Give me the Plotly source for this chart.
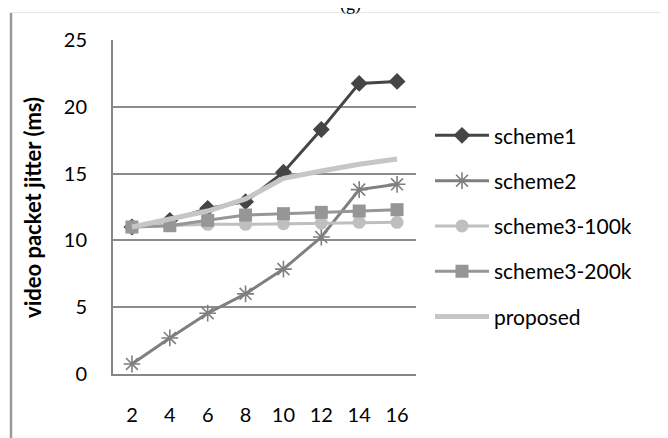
import plotly.graph_objects as go

categories = ["2", "4", "6", "8", "10", "12", "14", "16"]
scheme1 = [11.0, 11.5, 12.4, 12.9, 15.1, 18.3, 21.75, 21.9]
scheme2 = [0.75, 2.7, 4.55, 6.0, 7.85, 10.25, 13.8, 14.2]
scheme3_100k = [11.0, 11.1, 11.2, 11.2, 11.25, 11.3, 11.35, 11.35]
scheme3_200k = [11.0, 11.1, 11.5, 11.9, 12.0, 12.1, 12.2, 12.3]
proposed = [11.0, 11.6, 12.2, 13.1, 14.65, 15.2, 15.7, 16.1]
y_ticks = [0, 5, 10, 15, 20, 25]

FONT = "Lato"
OFF = 8  # page body margin

# plot area in screen pixels
SL, SR, ST, SB = 113, 416, 40, 382
W, H = 668 - OFF, 438 - OFF
L, R, T, B = SL - OFF, SR - OFF, ST - OFF, SB - OFF
PW, PH = R - L, B - T

def px_x(sx):
    return (sx - OFF - L) / PW

def px_y(sy):
    return (B - (sy - OFF)) / PH

fig = go.Figure()

series = [
    ("scheme1", scheme1, "#454545", dict(symbol="diamond", size=13, color="#454545"), 3),
    ("scheme2", scheme2, "#7f7f7f", dict(symbol="asterisk-open", size=14, color="#7f7f7f",
                                          line=dict(color="#7f7f7f", width=1.6)), 3),
    ("scheme3-100k", scheme3_100k, "#bfbfbf", dict(symbol="circle", size=13, color="#bfbfbf"), 3),
    ("scheme3-200k", scheme3_200k, "#969696", dict(symbol="square", size=13, color="#969696"), 3),
]
for i, (name, vals, col, mk, lw) in enumerate(series):
    fig.add_trace(go.Scatter(x=categories, y=vals, name=name, mode="lines+markers",
                             line=dict(color=col, width=lw), marker=mk,
                             legendgroup=f"g{i}"))
fig.add_trace(go.Scatter(x=categories, y=proposed, name="proposed", mode="lines",
                         line=dict(color="#c6c6c6", width=5), legendgroup="g4"))

fig.update_layout(
    width=W, height=H,
    margin=dict(l=L, r=W - R, t=T, b=H - B),
    paper_bgcolor="white", plot_bgcolor="white",
    font=dict(family=FONT, size=19, color="black"),
    showlegend=True,
    legend=dict(x=px_x(430), y=px_y(117), xanchor="left", yanchor="top",
                font=dict(family=FONT, size=21, color="black"),
                itemwidth=54, tracegroupgap=15, bgcolor="rgba(0,0,0,0)"),
    xaxis=dict(type="category", range=[-0.5, 7.5], showgrid=False,
               showline=True, linecolor="#868686", linewidth=2,
               ticks="outside", ticklen=22, tickcolor="rgba(0,0,0,0)",
               tickfont=dict(family=FONT, size=20)),
    yaxis=dict(range=[0, 25], tickvals=y_ticks, showgrid=True, gridcolor="#8c8c8c",
               gridwidth=1.5, zeroline=False, showline=True, linecolor="#868686",
               linewidth=2, ticks="outside", ticklen=20, tickcolor="rgba(0,0,0,0)",
               tickfont=dict(family=FONT, size=20)),
)

fig.add_annotation(text="<b>video packet jitter (ms)</b>", xref="paper", yref="paper",
                   x=px_x(33), y=px_y(212), xanchor="center", yanchor="middle",
                   textangle=-90, showarrow=False,
                   font=dict(family=FONT, size=22, color="black"))
fig.add_annotation(text="(g)", xref="paper", yref="paper", x=px_x(350), y=px_y(16),
                   xanchor="center", yanchor="bottom", showarrow=False,
                   font=dict(family="Liberation Serif", size=18, color="black"))

# outer frame
fig.add_shape(type="line", xref="paper", yref="paper", x0=px_x(11), x1=px_x(11),
              y0=px_y(12), y1=px_y(450), line=dict(color="#999999", width=2.5))
fig.add_shape(type="line", xref="paper", yref="paper", x0=px_x(664), x1=px_x(664),
              y0=px_y(12), y1=px_y(450), line=dict(color="#999999", width=2.5))
fig.add_shape(type="line", xref="paper", yref="paper", x0=px_x(11), x1=px_x(664),
              y0=px_y(12), y1=px_y(12), line=dict(color="#e6e6e6", width=1))

fig.write_html("out.html")
